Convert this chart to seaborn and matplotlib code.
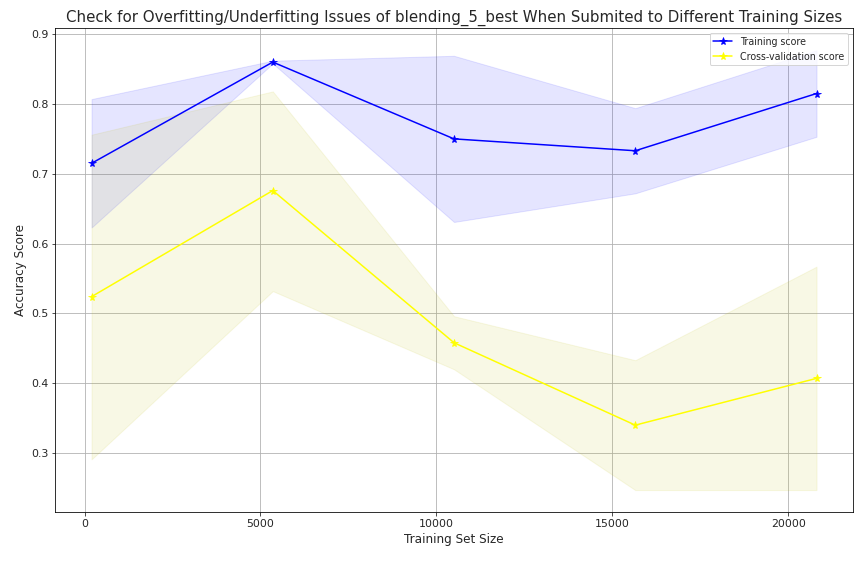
import numpy as np
import matplotlib
matplotlib.use("Agg")
import matplotlib.pyplot as plt
import seaborn as sns

train_sizes = [200, 5350, 10500, 15650, 20800]
train_mean = [0.715, 0.860, 0.750, 0.733, 0.815]
train_upper = [0.807, 0.862, 0.869, 0.794, 0.877]
train_lower = [0.623, 0.858, 0.631, 0.672, 0.753]
cv_mean = [0.524, 0.676, 0.458, 0.340, 0.407]
cv_upper = [0.756, 0.818, 0.496, 0.433, 0.567]
cv_lower = [0.291, 0.532, 0.420, 0.247, 0.247]

sns.set_style("ticks")
plt.rcParams["font.family"] = ["DejaVu Sans"]
fig, ax = plt.subplots(figsize=(12, 8), dpi=72)
fig.subplots_adjust(left=0.064, right=0.987, top=0.951, bottom=0.111)

ax.fill_between(train_sizes, train_lower, train_upper, alpha=0.1, color="b")
ax.fill_between(train_sizes, cv_lower, cv_upper, alpha=0.1, color="y")
sns.lineplot(x=train_sizes, y=train_mean, ax=ax, color="blue", marker="*",
             markersize=8, markeredgecolor="blue", label="Training score")
sns.lineplot(x=train_sizes, y=cv_mean, ax=ax, color="yellow", marker="*",
             markersize=8, markeredgecolor="yellow", label="Cross-validation score")

ax.grid(True, color="#b0b0b0", linewidth=0.8)
ax.set_title("Check for Overfitting/Underfitting Issues of blending_5_best When Submited to Different Training Sizes",
             fontsize=15)
ax.set_xlabel("Training Set Size", fontsize=12)
ax.set_ylabel("Accuracy Score", fontsize=12)
ax.tick_params(labelsize=11)
ax.set_xticks([0, 5000, 10000, 15000, 20000])
ax.legend(loc="upper right", fontsize=9.5, frameon=True)
for s in ax.spines.values():
    s.set_color("black")

plt.savefig("out.png", dpi=72)
